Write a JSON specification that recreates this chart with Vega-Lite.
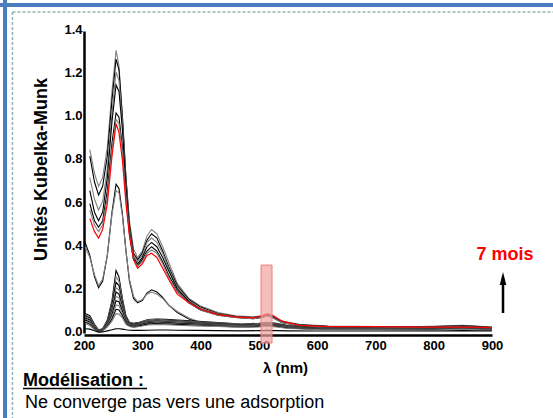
{
"$schema": "https://vega.github.io/schema/vega-lite/v6.json",
"width": 408, "height": 302,
"autosize": {"type": "none"},
"padding": {"left": 84, "top": 31, "right": 61, "bottom": 85},
"background": "white",
"config": {"view": {"stroke": null}, "font": "Liberation Sans"},
"datasets": {
"curves": [
{"s":"T1","x":210,"y":0.85},{"s":"T1","x":218,"y":0.74},{"s":"T1","x":225,"y":0.68},{"s":"T1","x":232,"y":0.72},{"s":"T1","x":240,"y":0.86},{"s":"T1","x":248,"y":1.12},{"s":"T1","x":255,"y":1.31},{"s":"T1","x":260,"y":1.24},{"s":"T1","x":266,"y":1.0},{"s":"T1","x":272,"y":0.72},{"s":"T1","x":278,"y":0.52},{"s":"T1","x":285,"y":0.39},{"s":"T1","x":292,"y":0.35},{"s":"T1","x":300,"y":0.38},{"s":"T1","x":308,"y":0.45},{"s":"T1","x":316,"y":0.48},{"s":"T1","x":325,"y":0.46},{"s":"T1","x":335,"y":0.40},{"s":"T1","x":345,"y":0.33},{"s":"T1","x":360,"y":0.23},{"s":"T1","x":380,"y":0.16},{"s":"T1","x":400,"y":0.125},{"s":"T1","x":430,"y":0.095},{"s":"T1","x":460,"y":0.08},{"s":"T1","x":490,"y":0.075},{"s":"T1","x":505,"y":0.08},{"s":"T1","x":515,"y":0.085},{"s":"T1","x":525,"y":0.075},{"s":"T1","x":540,"y":0.055},{"s":"T1","x":570,"y":0.04},{"s":"T1","x":620,"y":0.032},{"s":"T1","x":700,"y":0.03},{"s":"T1","x":780,"y":0.03},{"s":"T1","x":850,"y":0.036},{"s":"T1","x":900,"y":0.028},
{"s":"T2","x":210,"y":0.82},{"s":"T2","x":218,"y":0.70},{"s":"T2","x":225,"y":0.64},{"s":"T2","x":232,"y":0.68},{"s":"T2","x":240,"y":0.82},{"s":"T2","x":248,"y":1.08},{"s":"T2","x":255,"y":1.27},{"s":"T2","x":260,"y":1.22},{"s":"T2","x":266,"y":1.0},{"s":"T2","x":272,"y":0.72},{"s":"T2","x":278,"y":0.50},{"s":"T2","x":285,"y":0.37},{"s":"T2","x":292,"y":0.34},{"s":"T2","x":300,"y":0.37},{"s":"T2","x":308,"y":0.43},{"s":"T2","x":316,"y":0.46},{"s":"T2","x":325,"y":0.44},{"s":"T2","x":335,"y":0.38},{"s":"T2","x":345,"y":0.31},{"s":"T2","x":360,"y":0.22},{"s":"T2","x":380,"y":0.155},{"s":"T2","x":400,"y":0.12},{"s":"T2","x":430,"y":0.09},{"s":"T2","x":460,"y":0.078},{"s":"T2","x":490,"y":0.072},{"s":"T2","x":505,"y":0.078},{"s":"T2","x":515,"y":0.085},{"s":"T2","x":525,"y":0.075},{"s":"T2","x":540,"y":0.05},{"s":"T2","x":570,"y":0.038},{"s":"T2","x":620,"y":0.03},{"s":"T2","x":700,"y":0.028},{"s":"T2","x":780,"y":0.028},{"s":"T2","x":850,"y":0.034},{"s":"T2","x":900,"y":0.026},
{"s":"T3","x":210,"y":0.72},{"s":"T3","x":218,"y":0.62},{"s":"T3","x":225,"y":0.57},{"s":"T3","x":232,"y":0.61},{"s":"T3","x":240,"y":0.76},{"s":"T3","x":248,"y":1.02},{"s":"T3","x":255,"y":1.21},{"s":"T3","x":260,"y":1.17},{"s":"T3","x":266,"y":0.97},{"s":"T3","x":272,"y":0.70},{"s":"T3","x":278,"y":0.48},{"s":"T3","x":285,"y":0.36},{"s":"T3","x":292,"y":0.33},{"s":"T3","x":300,"y":0.36},{"s":"T3","x":308,"y":0.42},{"s":"T3","x":316,"y":0.44},{"s":"T3","x":325,"y":0.42},{"s":"T3","x":335,"y":0.37},{"s":"T3","x":345,"y":0.30},{"s":"T3","x":360,"y":0.21},{"s":"T3","x":380,"y":0.15},{"s":"T3","x":400,"y":0.115},{"s":"T3","x":430,"y":0.088},{"s":"T3","x":460,"y":0.076},{"s":"T3","x":490,"y":0.07},{"s":"T3","x":505,"y":0.076},{"s":"T3","x":515,"y":0.083},{"s":"T3","x":525,"y":0.073},{"s":"T3","x":540,"y":0.05},{"s":"T3","x":570,"y":0.036},{"s":"T3","x":620,"y":0.03},{"s":"T3","x":700,"y":0.028},{"s":"T3","x":780,"y":0.026},{"s":"T3","x":850,"y":0.033},{"s":"T3","x":900,"y":0.025},
{"s":"T4","x":210,"y":0.66},{"s":"T4","x":218,"y":0.56},{"s":"T4","x":225,"y":0.52},{"s":"T4","x":232,"y":0.56},{"s":"T4","x":240,"y":0.72},{"s":"T4","x":248,"y":0.98},{"s":"T4","x":255,"y":1.15},{"s":"T4","x":260,"y":1.12},{"s":"T4","x":266,"y":0.94},{"s":"T4","x":272,"y":0.68},{"s":"T4","x":278,"y":0.47},{"s":"T4","x":285,"y":0.35},{"s":"T4","x":292,"y":0.32},{"s":"T4","x":300,"y":0.35},{"s":"T4","x":308,"y":0.40},{"s":"T4","x":316,"y":0.42},{"s":"T4","x":325,"y":0.40},{"s":"T4","x":335,"y":0.35},{"s":"T4","x":345,"y":0.29},{"s":"T4","x":360,"y":0.205},{"s":"T4","x":380,"y":0.145},{"s":"T4","x":400,"y":0.11},{"s":"T4","x":430,"y":0.085},{"s":"T4","x":460,"y":0.074},{"s":"T4","x":490,"y":0.068},{"s":"T4","x":505,"y":0.074},{"s":"T4","x":515,"y":0.082},{"s":"T4","x":525,"y":0.072},{"s":"T4","x":540,"y":0.05},{"s":"T4","x":570,"y":0.035},{"s":"T4","x":620,"y":0.03},{"s":"T4","x":700,"y":0.027},{"s":"T4","x":780,"y":0.026},{"s":"T4","x":850,"y":0.032},{"s":"T4","x":900,"y":0.024},
{"s":"T5","x":210,"y":0.60},{"s":"T5","x":218,"y":0.52},{"s":"T5","x":225,"y":0.49},{"s":"T5","x":232,"y":0.52},{"s":"T5","x":240,"y":0.66},{"s":"T5","x":248,"y":0.88},{"s":"T5","x":255,"y":1.02},{"s":"T5","x":260,"y":1.0},{"s":"T5","x":266,"y":0.86},{"s":"T5","x":272,"y":0.64},{"s":"T5","x":278,"y":0.46},{"s":"T5","x":285,"y":0.34},{"s":"T5","x":292,"y":0.31},{"s":"T5","x":300,"y":0.34},{"s":"T5","x":308,"y":0.38},{"s":"T5","x":316,"y":0.40},{"s":"T5","x":325,"y":0.38},{"s":"T5","x":335,"y":0.33},{"s":"T5","x":345,"y":0.27},{"s":"T5","x":360,"y":0.195},{"s":"T5","x":380,"y":0.14},{"s":"T5","x":400,"y":0.107},{"s":"T5","x":430,"y":0.083},{"s":"T5","x":460,"y":0.072},{"s":"T5","x":490,"y":0.066},{"s":"T5","x":505,"y":0.072},{"s":"T5","x":515,"y":0.08},{"s":"T5","x":525,"y":0.07},{"s":"T5","x":540,"y":0.048},{"s":"T5","x":570,"y":0.034},{"s":"T5","x":620,"y":0.029},{"s":"T5","x":700,"y":0.027},{"s":"T5","x":780,"y":0.025},{"s":"T5","x":850,"y":0.03},{"s":"T5","x":900,"y":0.023},
{"s":"T6","x":210,"y":0.57},{"s":"T6","x":218,"y":0.50},{"s":"T6","x":225,"y":0.47},{"s":"T6","x":232,"y":0.50},{"s":"T6","x":240,"y":0.63},{"s":"T6","x":248,"y":0.85},{"s":"T6","x":255,"y":0.99},{"s":"T6","x":260,"y":0.97},{"s":"T6","x":266,"y":0.84},{"s":"T6","x":272,"y":0.63},{"s":"T6","x":278,"y":0.46},{"s":"T6","x":285,"y":0.34},{"s":"T6","x":292,"y":0.31},{"s":"T6","x":300,"y":0.33},{"s":"T6","x":308,"y":0.37},{"s":"T6","x":316,"y":0.385},{"s":"T6","x":325,"y":0.37},{"s":"T6","x":335,"y":0.32},{"s":"T6","x":345,"y":0.26},{"s":"T6","x":360,"y":0.19},{"s":"T6","x":380,"y":0.14},{"s":"T6","x":400,"y":0.105},{"s":"T6","x":430,"y":0.082},{"s":"T6","x":460,"y":0.072},{"s":"T6","x":490,"y":0.066},{"s":"T6","x":505,"y":0.072},{"s":"T6","x":515,"y":0.08},{"s":"T6","x":525,"y":0.07},{"s":"T6","x":540,"y":0.048},{"s":"T6","x":570,"y":0.034},{"s":"T6","x":620,"y":0.029},{"s":"T6","x":700,"y":0.027},{"s":"T6","x":780,"y":0.025},{"s":"T6","x":850,"y":0.03},{"s":"T6","x":900,"y":0.023},
{"s":"R","x":210,"y":0.53},{"s":"R","x":218,"y":0.47},{"s":"R","x":225,"y":0.44},{"s":"R","x":232,"y":0.48},{"s":"R","x":240,"y":0.60},{"s":"R","x":248,"y":0.82},{"s":"R","x":255,"y":0.97},{"s":"R","x":260,"y":0.93},{"s":"R","x":266,"y":0.80},{"s":"R","x":272,"y":0.60},{"s":"R","x":278,"y":0.45},{"s":"R","x":285,"y":0.34},{"s":"R","x":292,"y":0.30},{"s":"R","x":300,"y":0.32},{"s":"R","x":308,"y":0.36},{"s":"R","x":316,"y":0.37},{"s":"R","x":325,"y":0.35},{"s":"R","x":335,"y":0.30},{"s":"R","x":345,"y":0.25},{"s":"R","x":360,"y":0.18},{"s":"R","x":380,"y":0.14},{"s":"R","x":400,"y":0.11},{"s":"R","x":430,"y":0.085},{"s":"R","x":460,"y":0.075},{"s":"R","x":490,"y":0.07},{"s":"R","x":505,"y":0.08},{"s":"R","x":515,"y":0.09},{"s":"R","x":525,"y":0.08},{"s":"R","x":540,"y":0.055},{"s":"R","x":570,"y":0.035},{"s":"R","x":620,"y":0.03},{"s":"R","x":700,"y":0.03},{"s":"R","x":780,"y":0.027},{"s":"R","x":850,"y":0.027},{"s":"R","x":900,"y":0.025},
{"s":"M1","x":202,"y":0.42},{"s":"M1","x":210,"y":0.36},{"s":"M1","x":218,"y":0.26},{"s":"M1","x":225,"y":0.21},{"s":"M1","x":232,"y":0.24},{"s":"M1","x":240,"y":0.36},{"s":"M1","x":248,"y":0.56},{"s":"M1","x":255,"y":0.69},{"s":"M1","x":260,"y":0.67},{"s":"M1","x":266,"y":0.55},{"s":"M1","x":272,"y":0.38},{"s":"M1","x":278,"y":0.24},{"s":"M1","x":285,"y":0.16},{"s":"M1","x":292,"y":0.14},{"s":"M1","x":300,"y":0.15},{"s":"M1","x":308,"y":0.185},{"s":"M1","x":316,"y":0.20},{"s":"M1","x":325,"y":0.19},{"s":"M1","x":335,"y":0.165},{"s":"M1","x":345,"y":0.13},{"s":"M1","x":360,"y":0.095},{"s":"M1","x":380,"y":0.065},{"s":"M1","x":400,"y":0.048},{"s":"M1","x":430,"y":0.038},{"s":"M1","x":460,"y":0.033},{"s":"M1","x":490,"y":0.033},{"s":"M1","x":505,"y":0.04},{"s":"M1","x":515,"y":0.045},{"s":"M1","x":525,"y":0.04},{"s":"M1","x":540,"y":0.03},{"s":"M1","x":570,"y":0.022},{"s":"M1","x":620,"y":0.02},{"s":"M1","x":700,"y":0.02},{"s":"M1","x":780,"y":0.019},{"s":"M1","x":850,"y":0.025},{"s":"M1","x":900,"y":0.018},
{"s":"M2","x":202,"y":0.40},{"s":"M2","x":210,"y":0.35},{"s":"M2","x":218,"y":0.27},{"s":"M2","x":225,"y":0.22},{"s":"M2","x":232,"y":0.25},{"s":"M2","x":240,"y":0.36},{"s":"M2","x":248,"y":0.55},{"s":"M2","x":255,"y":0.66},{"s":"M2","x":260,"y":0.65},{"s":"M2","x":266,"y":0.54},{"s":"M2","x":272,"y":0.38},{"s":"M2","x":278,"y":0.25},{"s":"M2","x":285,"y":0.17},{"s":"M2","x":292,"y":0.145},{"s":"M2","x":300,"y":0.155},{"s":"M2","x":308,"y":0.18},{"s":"M2","x":316,"y":0.19},{"s":"M2","x":325,"y":0.18},{"s":"M2","x":335,"y":0.16},{"s":"M2","x":345,"y":0.13},{"s":"M2","x":360,"y":0.10},{"s":"M2","x":380,"y":0.07},{"s":"M2","x":400,"y":0.05},{"s":"M2","x":430,"y":0.04},{"s":"M2","x":460,"y":0.034},{"s":"M2","x":490,"y":0.034},{"s":"M2","x":505,"y":0.04},{"s":"M2","x":515,"y":0.044},{"s":"M2","x":525,"y":0.04},{"s":"M2","x":540,"y":0.03},{"s":"M2","x":570,"y":0.022},{"s":"M2","x":620,"y":0.02},{"s":"M2","x":700,"y":0.02},{"s":"M2","x":780,"y":0.019},{"s":"M2","x":850,"y":0.024},{"s":"M2","x":900,"y":0.018},
{"s":"B1","x":202,"y":0.09},{"s":"B1","x":210,"y":0.08},{"s":"B1","x":218,"y":0.04},{"s":"B1","x":225,"y":0.015},{"s":"B1","x":232,"y":0.02},{"s":"B1","x":240,"y":0.06},{"s":"B1","x":248,"y":0.15},{"s":"B1","x":255,"y":0.29},{"s":"B1","x":260,"y":0.26},{"s":"B1","x":266,"y":0.16},{"s":"B1","x":272,"y":0.08},{"s":"B1","x":278,"y":0.05},{"s":"B1","x":285,"y":0.045},{"s":"B1","x":295,"y":0.05},{"s":"B1","x":310,"y":0.062},{"s":"B1","x":325,"y":0.065},{"s":"B1","x":340,"y":0.063},{"s":"B1","x":360,"y":0.06},{"s":"B1","x":390,"y":0.055},{"s":"B1","x":430,"y":0.048},{"s":"B1","x":470,"y":0.042},{"s":"B1","x":500,"y":0.045},{"s":"B1","x":515,"y":0.05},{"s":"B1","x":530,"y":0.045},{"s":"B1","x":550,"y":0.035},{"s":"B1","x":600,"y":0.025},{"s":"B1","x":700,"y":0.023},{"s":"B1","x":800,"y":0.022},{"s":"B1","x":850,"y":0.028},{"s":"B1","x":900,"y":0.02},
{"s":"B2","x":202,"y":0.085},{"s":"B2","x":210,"y":0.075},{"s":"B2","x":218,"y":0.035},{"s":"B2","x":225,"y":0.012},{"s":"B2","x":232,"y":0.018},{"s":"B2","x":240,"y":0.055},{"s":"B2","x":248,"y":0.14},{"s":"B2","x":255,"y":0.26},{"s":"B2","x":260,"y":0.24},{"s":"B2","x":266,"y":0.15},{"s":"B2","x":272,"y":0.075},{"s":"B2","x":278,"y":0.048},{"s":"B2","x":285,"y":0.042},{"s":"B2","x":295,"y":0.047},{"s":"B2","x":310,"y":0.06},{"s":"B2","x":325,"y":0.063},{"s":"B2","x":340,"y":0.06},{"s":"B2","x":360,"y":0.057},{"s":"B2","x":390,"y":0.052},{"s":"B2","x":430,"y":0.046},{"s":"B2","x":470,"y":0.04},{"s":"B2","x":500,"y":0.043},{"s":"B2","x":515,"y":0.048},{"s":"B2","x":530,"y":0.043},{"s":"B2","x":550,"y":0.033},{"s":"B2","x":600,"y":0.024},{"s":"B2","x":700,"y":0.022},{"s":"B2","x":800,"y":0.021},{"s":"B2","x":850,"y":0.027},{"s":"B2","x":900,"y":0.019},
{"s":"B3","x":202,"y":0.08},{"s":"B3","x":210,"y":0.07},{"s":"B3","x":218,"y":0.03},{"s":"B3","x":225,"y":0.01},{"s":"B3","x":232,"y":0.016},{"s":"B3","x":240,"y":0.05},{"s":"B3","x":248,"y":0.13},{"s":"B3","x":255,"y":0.235},{"s":"B3","x":260,"y":0.22},{"s":"B3","x":266,"y":0.14},{"s":"B3","x":272,"y":0.07},{"s":"B3","x":278,"y":0.045},{"s":"B3","x":285,"y":0.04},{"s":"B3","x":295,"y":0.045},{"s":"B3","x":310,"y":0.057},{"s":"B3","x":325,"y":0.06},{"s":"B3","x":340,"y":0.058},{"s":"B3","x":360,"y":0.055},{"s":"B3","x":390,"y":0.05},{"s":"B3","x":430,"y":0.044},{"s":"B3","x":470,"y":0.038},{"s":"B3","x":500,"y":0.041},{"s":"B3","x":515,"y":0.046},{"s":"B3","x":530,"y":0.041},{"s":"B3","x":550,"y":0.032},{"s":"B3","x":600,"y":0.023},{"s":"B3","x":700,"y":0.021},{"s":"B3","x":800,"y":0.02},{"s":"B3","x":850,"y":0.026},{"s":"B3","x":900,"y":0.018},
{"s":"B4","x":202,"y":0.075},{"s":"B4","x":210,"y":0.065},{"s":"B4","x":218,"y":0.03},{"s":"B4","x":225,"y":0.01},{"s":"B4","x":232,"y":0.015},{"s":"B4","x":240,"y":0.045},{"s":"B4","x":248,"y":0.115},{"s":"B4","x":255,"y":0.21},{"s":"B4","x":260,"y":0.2},{"s":"B4","x":266,"y":0.13},{"s":"B4","x":272,"y":0.065},{"s":"B4","x":278,"y":0.043},{"s":"B4","x":285,"y":0.038},{"s":"B4","x":295,"y":0.043},{"s":"B4","x":310,"y":0.055},{"s":"B4","x":325,"y":0.058},{"s":"B4","x":340,"y":0.056},{"s":"B4","x":360,"y":0.053},{"s":"B4","x":390,"y":0.048},{"s":"B4","x":430,"y":0.042},{"s":"B4","x":470,"y":0.036},{"s":"B4","x":500,"y":0.04},{"s":"B4","x":515,"y":0.045},{"s":"B4","x":530,"y":0.04},{"s":"B4","x":550,"y":0.03},{"s":"B4","x":600,"y":0.022},{"s":"B4","x":700,"y":0.02},{"s":"B4","x":800,"y":0.02},{"s":"B4","x":850,"y":0.025},{"s":"B4","x":900,"y":0.018},
{"s":"B5","x":202,"y":0.07},{"s":"B5","x":210,"y":0.06},{"s":"B5","x":218,"y":0.028},{"s":"B5","x":225,"y":0.009},{"s":"B5","x":232,"y":0.014},{"s":"B5","x":240,"y":0.042},{"s":"B5","x":248,"y":0.105},{"s":"B5","x":255,"y":0.19},{"s":"B5","x":260,"y":0.18},{"s":"B5","x":266,"y":0.12},{"s":"B5","x":272,"y":0.06},{"s":"B5","x":278,"y":0.04},{"s":"B5","x":285,"y":0.036},{"s":"B5","x":295,"y":0.041},{"s":"B5","x":310,"y":0.052},{"s":"B5","x":325,"y":0.055},{"s":"B5","x":340,"y":0.053},{"s":"B5","x":360,"y":0.05},{"s":"B5","x":390,"y":0.046},{"s":"B5","x":430,"y":0.04},{"s":"B5","x":470,"y":0.035},{"s":"B5","x":500,"y":0.038},{"s":"B5","x":515,"y":0.043},{"s":"B5","x":530,"y":0.038},{"s":"B5","x":550,"y":0.029},{"s":"B5","x":600,"y":0.021},{"s":"B5","x":700,"y":0.02},{"s":"B5","x":800,"y":0.019},{"s":"B5","x":850,"y":0.024},{"s":"B5","x":900,"y":0.017},
{"s":"B6","x":202,"y":0.065},{"s":"B6","x":210,"y":0.055},{"s":"B6","x":218,"y":0.025},{"s":"B6","x":225,"y":0.008},{"s":"B6","x":232,"y":0.013},{"s":"B6","x":240,"y":0.04},{"s":"B6","x":248,"y":0.095},{"s":"B6","x":255,"y":0.17},{"s":"B6","x":260,"y":0.162},{"s":"B6","x":266,"y":0.11},{"s":"B6","x":272,"y":0.056},{"s":"B6","x":278,"y":0.038},{"s":"B6","x":285,"y":0.034},{"s":"B6","x":295,"y":0.039},{"s":"B6","x":310,"y":0.05},{"s":"B6","x":325,"y":0.053},{"s":"B6","x":340,"y":0.051},{"s":"B6","x":360,"y":0.048},{"s":"B6","x":390,"y":0.044},{"s":"B6","x":430,"y":0.038},{"s":"B6","x":470,"y":0.033},{"s":"B6","x":500,"y":0.036},{"s":"B6","x":515,"y":0.041},{"s":"B6","x":530,"y":0.036},{"s":"B6","x":550,"y":0.028},{"s":"B6","x":600,"y":0.02},{"s":"B6","x":700,"y":0.019},{"s":"B6","x":800,"y":0.018},{"s":"B6","x":850,"y":0.023},{"s":"B6","x":900,"y":0.016},
{"s":"B7","x":202,"y":0.06},{"s":"B7","x":210,"y":0.05},{"s":"B7","x":218,"y":0.022},{"s":"B7","x":225,"y":0.008},{"s":"B7","x":232,"y":0.012},{"s":"B7","x":240,"y":0.037},{"s":"B7","x":248,"y":0.085},{"s":"B7","x":255,"y":0.15},{"s":"B7","x":260,"y":0.145},{"s":"B7","x":266,"y":0.1},{"s":"B7","x":272,"y":0.052},{"s":"B7","x":278,"y":0.036},{"s":"B7","x":285,"y":0.032},{"s":"B7","x":295,"y":0.037},{"s":"B7","x":310,"y":0.047},{"s":"B7","x":325,"y":0.05},{"s":"B7","x":340,"y":0.048},{"s":"B7","x":360,"y":0.045},{"s":"B7","x":390,"y":0.041},{"s":"B7","x":430,"y":0.036},{"s":"B7","x":470,"y":0.031},{"s":"B7","x":500,"y":0.034},{"s":"B7","x":515,"y":0.039},{"s":"B7","x":530,"y":0.034},{"s":"B7","x":550,"y":0.026},{"s":"B7","x":600,"y":0.019},{"s":"B7","x":700,"y":0.018},{"s":"B7","x":800,"y":0.017},{"s":"B7","x":850,"y":0.022},{"s":"B7","x":900,"y":0.015},
{"s":"B8","x":202,"y":0.055},{"s":"B8","x":210,"y":0.045},{"s":"B8","x":218,"y":0.02},{"s":"B8","x":225,"y":0.007},{"s":"B8","x":232,"y":0.011},{"s":"B8","x":240,"y":0.034},{"s":"B8","x":248,"y":0.075},{"s":"B8","x":255,"y":0.13},{"s":"B8","x":260,"y":0.126},{"s":"B8","x":266,"y":0.09},{"s":"B8","x":272,"y":0.048},{"s":"B8","x":278,"y":0.034},{"s":"B8","x":285,"y":0.03},{"s":"B8","x":295,"y":0.035},{"s":"B8","x":310,"y":0.044},{"s":"B8","x":325,"y":0.047},{"s":"B8","x":340,"y":0.045},{"s":"B8","x":360,"y":0.042},{"s":"B8","x":390,"y":0.038},{"s":"B8","x":430,"y":0.034},{"s":"B8","x":470,"y":0.03},{"s":"B8","x":500,"y":0.032},{"s":"B8","x":515,"y":0.037},{"s":"B8","x":530,"y":0.032},{"s":"B8","x":550,"y":0.025},{"s":"B8","x":600,"y":0.018},{"s":"B8","x":700,"y":0.017},{"s":"B8","x":800,"y":0.016},{"s":"B8","x":850,"y":0.021},{"s":"B8","x":900,"y":0.014},
{"s":"B9","x":202,"y":0.05},{"s":"B9","x":210,"y":0.04},{"s":"B9","x":218,"y":0.018},{"s":"B9","x":225,"y":0.006},{"s":"B9","x":232,"y":0.01},{"s":"B9","x":240,"y":0.031},{"s":"B9","x":248,"y":0.065},{"s":"B9","x":255,"y":0.11},{"s":"B9","x":260,"y":0.107},{"s":"B9","x":266,"y":0.08},{"s":"B9","x":272,"y":0.044},{"s":"B9","x":278,"y":0.032},{"s":"B9","x":285,"y":0.028},{"s":"B9","x":295,"y":0.033},{"s":"B9","x":310,"y":0.041},{"s":"B9","x":325,"y":0.044},{"s":"B9","x":340,"y":0.042},{"s":"B9","x":360,"y":0.04},{"s":"B9","x":390,"y":0.036},{"s":"B9","x":430,"y":0.032},{"s":"B9","x":470,"y":0.028},{"s":"B9","x":500,"y":0.03},{"s":"B9","x":515,"y":0.035},{"s":"B9","x":530,"y":0.03},{"s":"B9","x":550,"y":0.023},{"s":"B9","x":600,"y":0.017},{"s":"B9","x":700,"y":0.016},{"s":"B9","x":800,"y":0.015},{"s":"B9","x":850,"y":0.02},{"s":"B9","x":900,"y":0.013},
{"s":"B10","x":202,"y":0.045},{"s":"B10","x":210,"y":0.035},{"s":"B10","x":218,"y":0.015},{"s":"B10","x":225,"y":0.005},{"s":"B10","x":232,"y":0.009},{"s":"B10","x":240,"y":0.028},{"s":"B10","x":248,"y":0.055},{"s":"B10","x":255,"y":0.09},{"s":"B10","x":260,"y":0.088},{"s":"B10","x":266,"y":0.07},{"s":"B10","x":272,"y":0.04},{"s":"B10","x":278,"y":0.03},{"s":"B10","x":285,"y":0.026},{"s":"B10","x":295,"y":0.03},{"s":"B10","x":310,"y":0.037},{"s":"B10","x":325,"y":0.04},{"s":"B10","x":340,"y":0.038},{"s":"B10","x":360,"y":0.036},{"s":"B10","x":390,"y":0.033},{"s":"B10","x":430,"y":0.03},{"s":"B10","x":470,"y":0.026},{"s":"B10","x":500,"y":0.028},{"s":"B10","x":515,"y":0.032},{"s":"B10","x":530,"y":0.028},{"s":"B10","x":550,"y":0.021},{"s":"B10","x":600,"y":0.016},{"s":"B10","x":700,"y":0.015},{"s":"B10","x":800,"y":0.014},{"s":"B10","x":850,"y":0.018},{"s":"B10","x":900,"y":0.012},
{"s":"B11","x":202,"y":0.02},{"s":"B11","x":210,"y":0.018},{"s":"B11","x":218,"y":0.01},{"s":"B11","x":225,"y":0.004},{"s":"B11","x":232,"y":0.005},{"s":"B11","x":240,"y":0.01},{"s":"B11","x":248,"y":0.015},{"s":"B11","x":255,"y":0.02},{"s":"B11","x":260,"y":0.02},{"s":"B11","x":266,"y":0.018},{"s":"B11","x":272,"y":0.015},{"s":"B11","x":278,"y":0.013},{"s":"B11","x":285,"y":0.012},{"s":"B11","x":295,"y":0.012},{"s":"B11","x":310,"y":0.013},{"s":"B11","x":325,"y":0.014},{"s":"B11","x":340,"y":0.014},{"s":"B11","x":360,"y":0.013},{"s":"B11","x":390,"y":0.012},{"s":"B11","x":430,"y":0.011},{"s":"B11","x":470,"y":0.01},{"s":"B11","x":500,"y":0.011},{"s":"B11","x":515,"y":0.012},{"s":"B11","x":530,"y":0.011},{"s":"B11","x":550,"y":0.01},{"s":"B11","x":600,"y":0.009},{"s":"B11","x":700,"y":0.009},{"s":"B11","x":800,"y":0.009},{"s":"B11","x":850,"y":0.011},{"s":"B11","x":900,"y":0.009}
],
"one": [{}]
},
"layer": [
{
"data": {"name": "curves"},
"transform": [{"filter": "datum.s !== 'R'"}],
"mark": {"type": "line", "strokeWidth": 1.1, "clip": false},
"encoding": {
"x": {"field": "x", "type": "quantitative",
  "scale": {"domain": [200, 900], "nice": false, "zero": false},
  "axis": {"values": [200, 300, 400, 500, 600, 700, 800, 900], "format": "d", "ticks": false, "tickSize": 0, "grid": false,
    "domainColor": "#000", "domainWidth": 2.5, "offset": 2,
    "labelFont": "Liberation Sans", "labelFontWeight": "bold", "labelFontSize": 13, "labelColor": "#000", "labelPadding": 4, "labelFlush": false, "labelOverlap": false,
    "title": "λ (nm)", "titleFont": "Liberation Sans", "titleFontSize": 15, "titleFontWeight": "bold", "titleColor": "#000",
    "titleX": 201, "titleY": 32, "titleBaseline": "middle", "titleAlign": "center"}},
"y": {"field": "y", "type": "quantitative",
  "scale": {"domain": [0, 1.4], "nice": false, "zero": false},
  "axis": {"values": [0, 0.2, 0.4, 0.6, 0.8, 1.0, 1.2, 1.4], "format": ".1f", "ticks": false, "tickSize": 0, "grid": false,
    "domainColor": "#000", "domainWidth": 2.5,
    "labelFont": "Liberation Sans", "labelFontWeight": "bold", "labelFontSize": 13, "labelColor": "#000", "labelPadding": 2, "labelOffset": -1.5, "labelFlush": false, "labelOverlap": false,
    "title": "Unités Kubelka-Munk", "titleFont": "Liberation Sans", "titleFontSize": 18, "titleFontWeight": "bold", "titleColor": "#000",
    "titleX": -43, "titleY": 138, "titleAngle": 270, "titleBaseline": "middle", "titleAlign": "center"}},
"color": {"field": "s", "type": "nominal", "legend": null,
  "scale": {"domain": ["T1","T2","T3","T4","T5","T6","M1","M2","B1","B2","B3","B4","B5","B6","B7","B8","B9","B10","B11"],
    "range": ["#808080","#000000","#808080","#000000","#000000","#808080","#000000","#808080","#000000","#808080","#000000","#808080","#000000","#808080","#000000","#808080","#000000","#808080","#000000"]}}
}
},
{
"data": {"name": "curves"},
"transform": [{"filter": "datum.s === 'R'"}],
"mark": {"type": "line", "strokeWidth": 1.2, "color": "#ff0000"},
"encoding": {
"x": {"field": "x", "type": "quantitative", "scale": {"domain": [200, 900], "nice": false, "zero": false}},
"y": {"field": "y", "type": "quantitative", "scale": {"domain": [0, 1.4], "nice": false, "zero": false}}
}
},
{
"data": {"name": "one"},
"mark": {"type": "rule", "color": "#4a7cc0", "strokeWidth": 4},
"encoding": {
"x": {"datum": -200, "type": "quantitative"},
"x2": {"datum": 1020},
"y": {"datum": 1.5205, "type": "quantitative"}
}
},
{
"data": {"name": "one"},
"mark": {"type": "rule", "color": "#4a7cc0", "strokeWidth": 4},
"encoding": {
"x": {"datum": 64.5, "type": "quantitative"},
"y": {"datum": 1.6, "type": "quantitative"},
"y2": {"datum": -0.45}
}
},
{
"data": {"name": "one"},
"mark": {"type": "rule", "color": "#8fb3b3", "strokeWidth": 1.5, "strokeDash": [3, 2]},
"encoding": {
"x": {"datum": 77.3, "type": "quantitative"},
"x2": {"datum": 1020},
"y": {"datum": 1.488, "type": "quantitative"}
}
},
{
"data": {"name": "one"},
"mark": {"type": "rule", "color": "#8fb3b3", "strokeWidth": 1.5, "strokeDash": [3, 2]},
"encoding": {
"x": {"datum": 77.3, "type": "quantitative"},
"y": {"datum": 1.488, "type": "quantitative"},
"y2": {"datum": -0.45}
}
},
{
"data": {"name": "one"},
"mark": {"type": "rect", "fill": "#f4a0a0", "fillOpacity": 0.7, "stroke": "#e88080", "strokeWidth": 1},
"encoding": {
"x": {"datum": 503.7, "type": "quantitative"},
"x2": {"datum": 522.6},
"y": {"datum": 0.315, "type": "quantitative"},
"y2": {"datum": -0.0464}
}
},
{
"data": {"name": "one"},
"mark": {"type": "rule", "color": "#000", "strokeWidth": 2.5},
"encoding": {
"x": {"datum": 918.9, "type": "quantitative"},
"y": {"datum": 0.0927, "type": "quantitative"},
"y2": {"datum": 0.255}
}
},
{
"data": {"name": "one"},
"mark": {"type": "point", "shape": "M0,-1L0.5,1L-0.5,1Z", "filled": true, "color": "#000", "size": 169, "opacity": 1},
"encoding": {
"x": {"datum": 918.9, "type": "quantitative"},
"y": {"datum": 0.2527, "type": "quantitative"}
}
},
{
"data": {"name": "one"},
"mark": {"type": "text", "text": "7 mois", "font": "Liberation Sans", "fontSize": 18, "fontWeight": "bold", "color": "#ff0000", "align": "center", "baseline": "alphabetic"},
"encoding": {
"x": {"datum": 922.3, "type": "quantitative"},
"y": {"datum": 0.338, "type": "quantitative"}
}
},
{
"data": {"name": "one"},
"mark": {"type": "text", "text": "Modélisation :", "font": "Liberation Sans", "fontSize": 18, "fontWeight": "bold", "color": "#000", "align": "left", "baseline": "alphabetic"},
"encoding": {
"x": {"datum": 95.3, "type": "quantitative"},
"y": {"datum": -0.2457, "type": "quantitative"}
}
},
{
"data": {"name": "one"},
"mark": {"type": "rule", "color": "#000", "strokeWidth": 1.5},
"encoding": {
"x": {"datum": 95.3, "type": "quantitative"},
"x2": {"datum": 308.1},
"y": {"datum": -0.2573, "type": "quantitative"}
}
},
{
"data": {"name": "one"},
"mark": {"type": "text", "text": "Ne converge pas vers une adsorption", "font": "Liberation Sans", "fontSize": 18, "color": "#000", "align": "left", "baseline": "alphabetic"},
"encoding": {
"x": {"datum": 98.8, "type": "quantitative"},
"y": {"datum": -0.3477, "type": "quantitative"}
}
}
]
}
